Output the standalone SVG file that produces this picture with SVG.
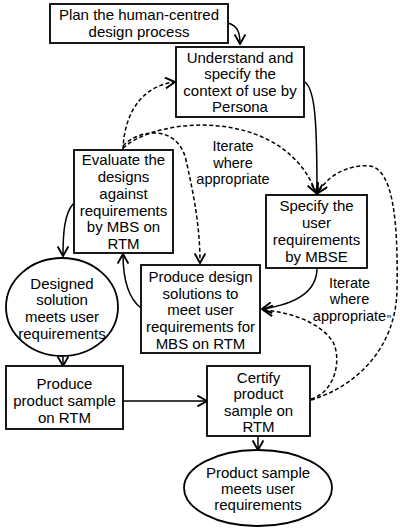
<svg xmlns="http://www.w3.org/2000/svg" width="400" height="529" viewBox="0 0 400 529">
<defs>
<style>
.box{fill:#fff;stroke:#000;stroke-width:1.8}
.t{font-family:"Liberation Sans",Arial,sans-serif;font-size:15px;fill:#000;text-anchor:middle}
.l{font-size:14.5px}
.c{fill:none;stroke:#000;stroke-width:1.5}
.d{fill:none;stroke:#000;stroke-width:1.5;stroke-dasharray:4 2.5}
</style>
<marker id="ah" markerWidth="12" markerHeight="12" refX="9" refY="5" orient="auto" markerUnits="userSpaceOnUse" viewBox="0 0 10 10">
<path d="M1,0.5 L9,5 L1,9.5" fill="none" stroke="#000" stroke-width="1.6"/>
</marker>
</defs>
<rect width="400" height="529" fill="#fff"/>
<g id="connectors">
<path class="c" d="M228,23 C238,26 240,33 240,44" marker-end="url(#ah)"/>
<path class="c" d="M305,82 C315,90 317,120 317,194" marker-end="url(#ah)"/>
<path class="d" d="M123,150 C124,110 145,85 175,82" marker-end="url(#ah)"/>
<path class="d" d="M123,148 C160,115 285,108 316,193" marker-end="url(#ah)"/>
<path class="d" d="M123,146 C140,128 178,125 186,160 C195,200 200,230 200,263" marker-end="url(#ah)"/>
<path class="c" d="M74,203 C64,213 63,235 63,256" marker-end="url(#ah)"/>
<path class="c" d="M141,308 C128,298 123,280 123,254" marker-end="url(#ah)"/>
<path class="c" d="M317,268 C317,295 290,305 262,309" marker-end="url(#ah)"/>
<path class="d" d="M311,399 C335,392 342,360 333,342 C320,322 290,312 263,310" marker-end="url(#ah)"/>
<path class="d" d="M311,400 C360,385 396,345 397,290 C398,230 395,170 370,166 C345,164 326,178 318,193" marker-end="url(#ah)"/>
<path class="c" d="M63,357 L63,366" marker-end="url(#ah)"/>
<path class="c" d="M123,401 L207,401" marker-end="url(#ah)"/>
<path class="c" d="M258,436 L258,450" marker-end="url(#ah)"/>
</g>
<g id="plan">
<rect class="box" x="50" y="4" width="178" height="39"/>
<text class="t"><tspan x="139" y="20">Plan the human-centred</tspan><tspan x="139" y="37">design process</tspan></text>
</g>
<g id="understand">
<rect class="box" x="176" y="47" width="128" height="70"/>
<text class="t"><tspan x="240" y="62.5">Understand and</tspan><tspan x="240" y="79">specify the</tspan><tspan x="240" y="95.5">context of use by</tspan><tspan x="240" y="112">Persona</tspan></text>
</g>
<g id="evaluate">
<rect class="box" x="74" y="150" width="99" height="103"/>
<text class="t"><tspan x="123.5" y="164.5">Evaluate the</tspan><tspan x="123.5" y="181.5">designs</tspan><tspan x="123.5" y="198.5">against</tspan><tspan x="123.5" y="215.5">requirements</tspan><tspan x="123.5" y="232">by MBS on</tspan><tspan x="123.5" y="248.5">RTM</tspan></text>
</g>
<g id="specify">
<rect class="box" x="266" y="195" width="101" height="73"/>
<text class="t"><tspan x="316.5" y="210.5">Specify the</tspan><tspan x="316.5" y="227.5">user</tspan><tspan x="316.5" y="244.5">requirements</tspan><tspan x="316.5" y="261.5">by MBSE</tspan></text>
</g>
<g id="produce-design">
<rect class="box" x="141" y="265" width="119" height="88"/>
<text class="t"><tspan x="200.5" y="281.5">Produce design</tspan><tspan x="200.5" y="298.5">solutions to</tspan><tspan x="200.5" y="314.5">meet user</tspan><tspan x="200.5" y="331.5">requirements for</tspan><tspan x="200.5" y="348.5">MBS on RTM</tspan></text>
</g>
<g id="designed-solution">
<ellipse class="box" cx="62" cy="307" rx="56" ry="49"/>
<text class="t"><tspan x="62" y="288.5">Designed</tspan><tspan x="62" y="304.5">solution</tspan><tspan x="62" y="321.5">meets user</tspan><tspan x="62" y="338.5">requirements</tspan></text>
</g>
<g id="produce-sample">
<rect class="box" x="6" y="366" width="117" height="63"/>
<text class="t"><tspan x="64.5" y="388.5">Produce</tspan><tspan x="64.5" y="406">product sample</tspan><tspan x="64.5" y="422.5">on RTM</tspan></text>
</g>
<g id="certify">
<rect class="box" x="207" y="366" width="103" height="70"/>
<text class="t"><tspan x="258.5" y="382.5">Certify</tspan><tspan x="258.5" y="398.5">product</tspan><tspan x="258.5" y="415.5">sample on</tspan><tspan x="258.5" y="432">RTM</tspan></text>
</g>
<g id="product-meets">
<ellipse class="box" cx="258" cy="488" rx="74" ry="38"/>
<text class="t"><tspan x="258" y="477.5">Product sample</tspan><tspan x="258" y="493.5">meets user</tspan><tspan x="258" y="509.5">requirements</tspan></text>
</g>
<g id="labels">
<text class="t l"><tspan x="233" y="150.5">Iterate</tspan><tspan x="233" y="167.5">where</tspan><tspan x="233" y="183.5">appropriate</tspan></text>
<text class="t l"><tspan x="349.5" y="287.5">Iterate</tspan><tspan x="349.5" y="303.5">where</tspan><tspan x="349.5" y="320.5">appropriate</tspan></text>
<text class="t" style="font-size:12px" x="389" y="323.5">''</text>
</g>
</svg>
